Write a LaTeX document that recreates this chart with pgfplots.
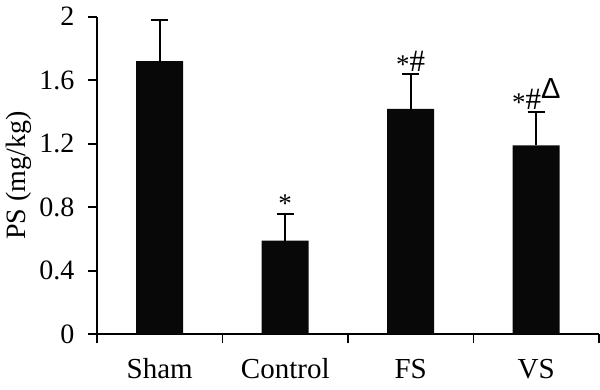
\documentclass[border=0pt]{standalone}
\usepackage{pgfplots}
\pgfplotsset{compat=1.18}
\usepackage{fontspec}
\setmainfont{Liberation Serif}
\setsansfont{Liberation Sans}
\DeclareRobustCommand\st{\raisebox{-2pt}{\fontsize{27}{27}\selectfont *}}
\DeclareRobustCommand\hs{\raisebox{0pt}{\fontsize{31}{31}\selectfont\#}}
\DeclareRobustCommand\tri{\raisebox{11pt}{\fontsize{29}{29}\selectfont\sffamily Δ}}
\begin{document}
\begin{tikzpicture}
\useasboundingbox (-97pt,-55.7pt) rectangle (503pt,334.3pt);
\begin{axis}[
  at={(0,0)}, anchor=south west,
  scale only axis,
  width=502pt, height=317.6pt,
  xmin=-0.5, xmax=3.5,
  ymin=0, ymax=2,
  axis x line=bottom, axis y line=left,
  axis line style={-, line width=1.8pt},
  xtick={0,1,2,3},
  xticklabels={Sham,Control,FS,VS},
  major x tick style={draw=none},
  minor xtick={-0.5,0.5,1.5,2.5,3.5},
  ytick={0,0.4,0.8,1.2,1.6,2},
  yticklabels={0,0.4,0.8,1.2,1.6,2},
  tick align=outside,
  major tick length=9pt, minor tick length=9pt,
  tick style={line width=1.8pt, black},
  /pgf/number format/assume math mode=true,
  xticklabel style={font=\fontsize{29}{32}\selectfont, yshift=-12pt},
  yticklabel style={font=\fontsize{28}{30}\selectfont, xshift=-10pt},
  ylabel={PS (mg/kg)},
  ylabel style={font=\fontsize{28}{30}\selectfont, at={(axis description cs:-0.155,0.5)}, anchor=center},
  clip=false,
]
\addplot[ybar, bar width=47pt, fill=black!97, draw=none,
  error bars/.cd, y dir=plus, y explicit,
  error bar style={line width=1.8pt, black},
  error mark options={rotate=90, mark size=8.5pt, line width=1.8pt, black}]
  coordinates {
    (0,1.72) +- (0,0.26)
    (1,0.59) +- (0,0.17)
    (2,1.42) +- (0,0.22)
    (3,1.19) +- (0,0.21)
  };
\addplot[draw=none, nodes near coords, point meta=explicit symbolic,
  every node near coord/.append style={anchor=south, inner sep=1.5pt, yshift=-1pt}]
  coordinates {
    (1,0.762)[\st]
    (2,1.64)[\st\hs]
    (3,1.40)[\st\hs\tri]
  };
\end{axis}
\end{tikzpicture}
\end{document}
